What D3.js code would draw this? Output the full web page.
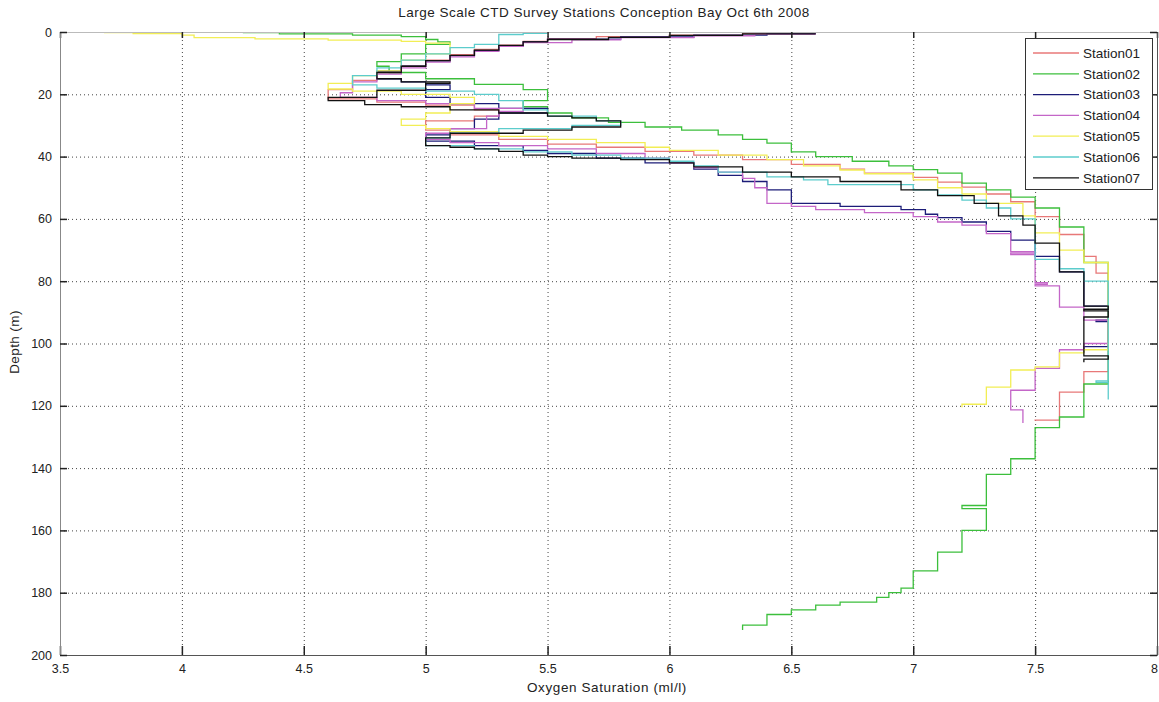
<!DOCTYPE html>
<meta charset="utf-8">
<style>
body { margin: 0; background: #fff; }
text { font-family: "Liberation Sans", Arial, sans-serif; }
</style>
<svg width="1159" height="702"></svg>
<script src="https://d3js.org/d3.v7.min.js"></script>
<script>
// each station: [oxygen (ml/l), depth (m)] ; oxygen is held from the previous depth down to this one
const stationNames = ["Station01", "Station02", "Station03", "Station04", "Station05", "Station06", "Station07"];
const stationColors = ["#e87878", "#3cbf3c", "#1c1c78", "#c466c8", "#f2ee55", "#5ccccc", "#111111"];

const st01 = [[6.6,0.4],[6.3,1.0],[6.0,1.5],[5.7,2.1],[5.5,3.0],[5.4,4.2],[5.3,5.6],[5.2,7.3],[5.1,9.0],[5.0,11],
  [4.9,13],[4.8,15.5],[4.7,18.5],[4.6,21.5],[4.8,22.5],[5.0,23.5],[5.2,25],[5.3,27],[5.2,28.5],[5.0,31.5],
  [5.1,33],[5.3,34.5],[5.5,36],[5.7,37],[5.9,38.3],[6.1,39.5],[6.3,41],[6.5,42.5],[6.7,44],[6.8,45.3],
  [7.0,46.7],[7.1,48.2],[7.2,49.8],[7.3,52],[7.4,54.5],[7.5,59.3],[7.6,65],[7.7,72],[7.75,77.4],[7.8,109],
  [7.7,115.6],[7.6,124.6],[7.5,124.8]];

const st02 = [[4.25,0.2],[4.4,0.6],[4.7,1.0],[4.9,1.5],[5.0,2.4],[5.05,3.2],[5.1,4.0],[5.0,7],[4.9,9.5],[4.8,11],
  [4.85,13],[5.0,15],[5.2,16.8],[5.4,18.5],[5.5,22],[5.4,24],[5.5,26],[5.6,27.6],[5.75,29],[5.9,30.5],
  [6.05,31.5],[6.2,33],[6.3,34.5],[6.4,35.7],[6.5,38.5],[6.6,40],[6.75,41.5],[6.9,43],[7.0,44.2],[7.1,45.3],
  [7.2,48.5],[7.3,50.7],[7.4,53],[7.5,56.5],[7.6,62.6],[7.7,74],[7.8,113],[7.7,123.6],[7.6,127],[7.5,137],
  [7.4,142],[7.3,152],[7.2,153],[7.3,160],[7.2,167],[7.1,173],[7.0,178.5],[6.95,180],[6.9,181.5],[6.85,183],
  [6.7,184],[6.6,185.5],[6.5,187],[6.4,190.4],[6.3,192]];

const st03 = [[6.6,0.5],[6.4,1.0],[6.1,1.6],[5.8,2.3],[5.5,3.2],[5.4,4.5],[5.3,6],[5.2,7.6],[5.1,9.3],[5.0,11],
  [4.9,12.6],[4.8,15],[4.9,16],[5.0,17],[5.1,18.5],[5.0,21],[5.1,23],[5.3,24.5],[5.5,26],[5.3,28],
  [5.2,31],[5.1,33],[5.0,35],[5.2,36.5],[5.4,38],[5.5,39],[5.7,40.5],[5.9,42],[6.1,44],[6.2,46],
  [6.3,48],[6.4,50.7],[6.5,55],[6.7,56],[6.95,57],[7.05,58.5],[7.1,59.6],[7.2,61],[7.3,64],[7.4,66.8],
  [7.5,72],[7.6,77],[7.7,88],[7.8,92.5],[7.75,93],[7.8,101],[7.7,103]];

const st04 = [[6.6,0.7],[6.35,1.2],[6.1,1.8],[5.8,2.5],[5.6,3.4],[5.4,4.6],[5.3,6.2],[5.2,8],[5.1,9.7],[5.0,11.5],
  [4.9,13.5],[4.8,16],[4.7,19.5],[4.65,21],[4.8,22],[5.0,23],[5.2,24.5],[5.4,25.5],[5.3,27],[5.25,31],
  [5.1,32.5],[5.0,34.5],[5.1,35.5],[5.3,36.5],[5.5,37.5],[5.7,39],[5.9,40.5],[6.0,42],[6.1,43.5],[6.2,45],
  [6.3,47],[6.35,50],[6.4,55],[6.5,56],[6.6,57],[6.8,58],[7.0,59.3],[7.1,61],[7.2,62],[7.3,64.7],
  [7.4,70.5],[7.5,71],[7.4,71.5],[7.5,80.5],[7.55,81],[7.5,81.5],[7.6,88.3],[7.7,92.5],[7.8,100],[7.7,102],
  [7.6,108],[7.5,115],[7.4,121.3],[7.45,125.5]];

const st05 = [[3.68,0.2],[3.8,0.5],[4.0,1.0],[4.05,1.8],[4.3,2.2],[4.6,2.6],[4.9,3.0],[5.0,3.6],[5.1,7],[5.0,9],
  [4.9,12.5],[4.8,14],[4.7,16.5],[4.6,18.3],[4.7,19],[4.9,20],[5.1,21],[5.2,23],[5.1,26],[5.0,28],
  [4.9,30],[5.0,31],[5.1,32],[5.3,33.5],[5.5,34.5],[5.7,35.5],[5.9,37],[6.0,38],[6.2,39.5],[6.4,41],
  [6.55,43],[6.7,44.3],[6.8,45.5],[7.0,47.5],[7.1,50],[7.2,52],[7.3,55],[7.45,59],[7.5,64.5],[7.6,70],
  [7.7,74],[7.8,102],[7.7,103],[7.6,107.5],[7.5,108.5],[7.4,114],[7.3,119.5],[7.2,120.5]];

const st06 = [[5.5,0.4],[5.4,0.8],[5.3,4],[5.2,5],[5.1,7],[5.0,9],[4.9,11.5],[4.8,14],[4.7,17],[4.8,18],
  [5.0,19],[5.2,20],[5.3,22],[5.4,25],[5.5,27],[5.7,28.5],[5.8,30],[5.6,31],[5.3,32.5],[5.1,34],
  [5.0,36.5],[5.2,37.5],[5.4,38.5],[5.6,39.5],[5.8,40.5],[6.0,41.5],[6.1,43],[6.2,45],[6.4,46.5],[6.55,47.5],
  [6.65,49],[7.0,50.7],[7.1,52.3],[7.2,54],[7.3,56.5],[7.4,60],[7.5,73],[7.6,76],[7.7,80],[7.8,112],
  [7.75,112.5],[7.8,118]];

const st07 = [[6.6,0.6],[6.3,1.1],[6.0,1.7],[5.75,2.4],[5.5,3.2],[5.4,4.3],[5.3,5.8],[5.2,7.5],[5.1,9.2],[5.0,11],
  [4.9,13],[4.8,15],[4.9,16],[5.1,16.5],[5.0,18.7],[4.8,21],[4.6,22],[4.75,23.3],[4.9,24],[5.1,25],
  [5.3,26],[5.5,27],[5.6,27.6],[5.7,28.5],[5.8,30.5],[5.6,31.5],[5.4,32.5],[5.1,34],[5.0,36.5],[5.1,37],
  [5.2,37.5],[5.3,38.3],[5.4,39.5],[5.5,40],[5.6,40.5],[5.8,41],[6.0,42],[6.1,43.3],[6.3,45],[6.5,46.5],
  [6.7,48],[6.95,50.7],[7.1,52.5],[7.25,55],[7.35,59],[7.45,62],[7.5,67.8],[7.6,77],[7.7,88],[7.8,89],
  [7.7,89.5],[7.8,91.5],[7.7,104],[7.8,105],[7.7,106]];

const stations = [st01, st02, st03, st04, st05, st06, st07];
const xTicks = [3.5, 4, 4.5, 5, 5.5, 6, 6.5, 7, 7.5, 8];
const yTicks = [0, 20, 40, 60, 80, 100, 120, 140, 160, 180, 200];

var svg = d3.select("svg"),
    mLeft = 60, mRight = 1157, mTop = 32, mBottom = 655;

var x = d3.scaleLinear().domain([3.5, 8]).range([mLeft, mRight]);
var y = d3.scaleLinear().domain([0, 200]).range([mTop, mBottom]);

svg.append("rect").attr("width", 1159).attr("height", 702).attr("fill", "#fff");

// dotted grid
var grid = svg.append("g").attr("stroke", "#444").attr("stroke-width", 1).attr("stroke-dasharray", "1,3");
grid.selectAll(".gx").data(xTicks.slice(1, -1)).join("line")
    .attr("x1", d => x(d) + 0.5).attr("x2", d => x(d) + 0.5)
    .attr("y1", mTop).attr("y2", mBottom);
grid.selectAll(".gy").data(yTicks.slice(1, -1)).join("line")
    .attr("y1", d => y(d) + 0.5).attr("y2", d => y(d) + 0.5)
    .attr("x1", mLeft).attr("x2", mRight);

// profiles
var line = d3.line()
    .x(d => x(d[0]))
    .y(d => y(d[1]))
    .curve(d3.curveStepAfter);

svg.append("g").selectAll("path").data(stations).join("path")
    .attr("d", line)
    .attr("fill", "none")
    .attr("stroke", (d, i) => stationColors[i])
    .attr("stroke-width", 1.3);

// axes, ticks pointing inward like matlab
function styleAxis(g) {
  g.selectAll("path").attr("stroke", "#555");
  g.selectAll("line").attr("stroke", "#222").attr("stroke-width", 1.5);
  g.selectAll("text").attr("fill", "#222").style("font-size", "12.5px");
}
var xAxis = svg.append("g").attr("transform", "translate(0," + mBottom + ")")
    .call(d3.axisBottom(x).tickValues(xTicks).tickFormat(d => String(d))
      .tickSizeInner(-9).tickSizeOuter(0).tickPadding(9))
    .call(styleAxis);
xAxis.selectAll("text").filter(d => d === 8).attr("dx", "-3");
svg.append("g").attr("transform", "translate(0," + mTop + ")")
    .call(d3.axisTop(x).tickValues(xTicks).tickSizeInner(-6).tickSizeOuter(0).tickFormat(""))
    .call(styleAxis).select("path").attr("stroke", "#bbb");
svg.append("g").attr("transform", "translate(" + mLeft + ",0)")
    .call(d3.axisLeft(y).tickValues(yTicks).tickSizeInner(-7).tickSizeOuter(0).tickPadding(8))
    .call(styleAxis).select("path").attr("stroke", "#888");
svg.append("g").attr("transform", "translate(" + mRight + ",0)")
    .call(d3.axisRight(y).tickValues(yTicks).tickSizeInner(-7).tickSizeOuter(0).tickFormat(""))
    .call(styleAxis);

// titles
svg.append("text").attr("x", 604).attr("y", 17).attr("text-anchor", "middle")
    .style("font-size", "13.5px").style("letter-spacing", "0.5px").attr("fill", "#222")
    .text("Large Scale CTD Survey Stations Conception Bay Oct 6th 2008");
svg.append("text").attr("x", 607).attr("y", 692).attr("text-anchor", "middle")
    .style("font-size", "13.5px").style("letter-spacing", "0.6px").attr("fill", "#222")
    .text("Oxygen Saturation (ml/l)");
svg.append("text").attr("transform", "translate(19,342) rotate(-90)").attr("text-anchor", "middle")
    .style("font-size", "13.5px").style("letter-spacing", "0.4px").attr("fill", "#222")
    .text("Depth (m)");

// legend
var legend = svg.append("g");
legend.append("rect").attr("x", 1025.5).attr("y", 38.5).attr("width", 127).attr("height", 151)
    .attr("fill", "#fff").attr("stroke", "#333");
var item = legend.selectAll("g").data(stationNames).join("g")
    .attr("transform", (d, i) => "translate(0," + (53 + i * 20.8) + ")");
item.append("line").attr("x1", 1033).attr("x2", 1079)
    .attr("stroke", (d, i) => stationColors[i]).attr("stroke-width", 1.3);
item.append("text").attr("x", 1083).attr("dy", "0.35em")
    .style("font-size", "13.5px").attr("fill", "#222").text(d => d);
</script>
